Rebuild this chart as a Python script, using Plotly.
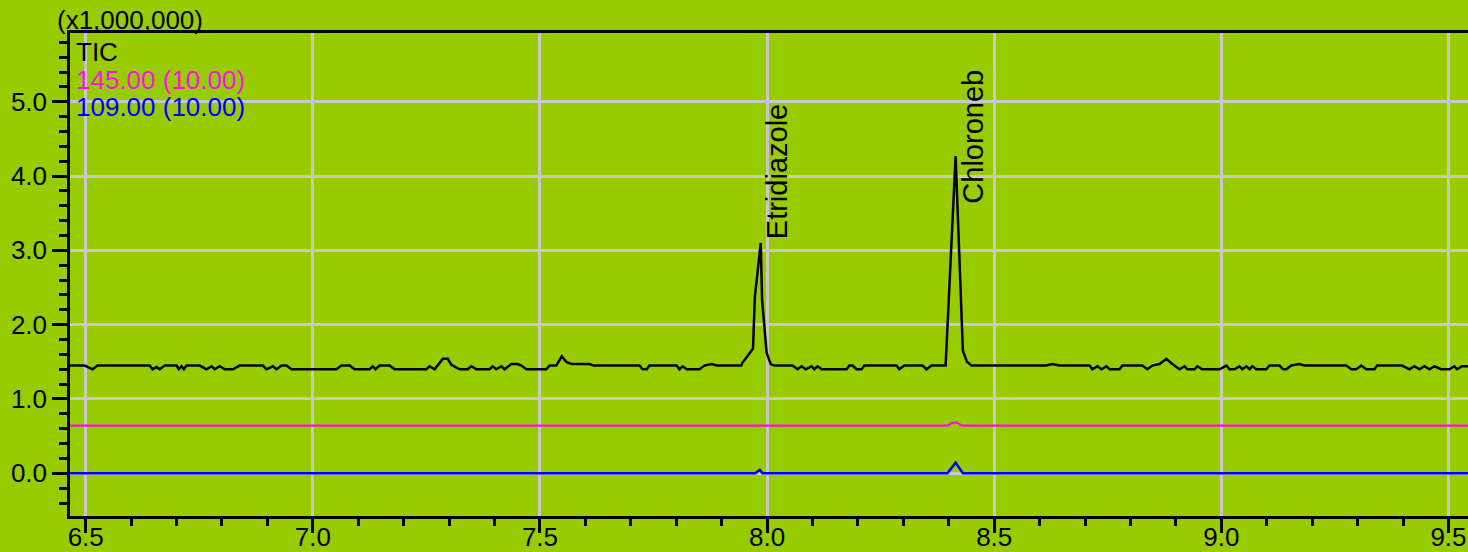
import plotly.graph_objects as go

# Total ion chromatogram (x1,000,000 counts) vs retention time (min)
tic_time = [
    6.465, 6.498, 6.515, 6.526, 6.641, 6.647, 6.656, 6.663, 6.674, 6.700,
    6.705, 6.711, 6.716, 6.722, 6.751, 6.766, 6.777, 6.784, 6.795, 6.806,
    6.824, 6.839, 6.890, 6.898, 6.912, 6.920, 6.931, 6.942, 6.953, 7.052,
    7.063, 7.081, 7.092, 7.125, 7.132, 7.138, 7.147, 7.169, 7.180, 7.250,
    7.257, 7.268, 7.286, 7.297, 7.305, 7.319, 7.323, 7.341, 7.349, 7.360,
    7.389, 7.396, 7.404, 7.415, 7.422, 7.437, 7.451, 7.459, 7.470, 7.514,
    7.521, 7.536, 7.548, 7.558, 7.570, 7.609, 7.618, 7.719, 7.726, 7.735,
    7.741, 7.801, 7.807, 7.814, 7.823, 7.851, 7.862, 7.878, 7.889, 7.943,
    7.946, 7.957, 7.969, 7.973, 7.986, 7.989, 7.999, 8.008, 8.016, 8.056,
    8.067, 8.076, 8.085, 8.098, 8.104, 8.111, 8.120, 8.175, 8.181, 8.188,
    8.197, 8.208, 8.214, 8.285, 8.291, 8.302, 8.342, 8.351, 8.362, 8.393,
    8.415, 8.431, 8.440, 8.450, 8.615, 8.628, 8.644, 8.710, 8.716, 8.727,
    8.736, 8.747, 8.754, 8.776, 8.782, 8.826, 8.837, 8.848, 8.864, 8.879,
    8.892, 8.908, 8.919, 8.925, 8.941, 8.947, 8.958, 8.996, 9.011, 9.018,
    9.029, 9.040, 9.046, 9.055, 9.062, 9.068, 9.077, 9.099, 9.106, 9.128,
    9.136, 9.143, 9.154, 9.172, 9.183, 9.275, 9.286, 9.297, 9.308, 9.319,
    9.337, 9.343, 9.398, 9.414, 9.425, 9.436, 9.447, 9.458, 9.469, 9.484,
    9.502, 9.513, 9.519, 9.530, 9.543,
]
tic_signal = [
    1.45, 1.45, 1.40, 1.45, 1.45, 1.40, 1.43, 1.40, 1.45, 1.45,
    1.40, 1.44, 1.40, 1.45, 1.45, 1.40, 1.44, 1.40, 1.44, 1.40,
    1.40, 1.45, 1.45, 1.40, 1.44, 1.40, 1.45, 1.45, 1.40, 1.40,
    1.45, 1.45, 1.40, 1.40, 1.44, 1.40, 1.45, 1.45, 1.40, 1.40,
    1.44, 1.40, 1.54, 1.54, 1.46, 1.41, 1.40, 1.40, 1.44, 1.40,
    1.40, 1.44, 1.40, 1.44, 1.40, 1.47, 1.47, 1.45, 1.40, 1.40,
    1.45, 1.45, 1.575, 1.50, 1.47, 1.47, 1.45, 1.45, 1.40, 1.40,
    1.45, 1.45, 1.40, 1.44, 1.40, 1.40, 1.45, 1.47, 1.45, 1.45,
    1.49, 1.58, 1.68, 2.37, 3.10, 2.33, 1.62, 1.47, 1.45, 1.45,
    1.40, 1.44, 1.40, 1.44, 1.40, 1.44, 1.40, 1.40, 1.45, 1.45,
    1.40, 1.40, 1.45, 1.45, 1.40, 1.45, 1.45, 1.40, 1.45, 1.45,
    4.27, 1.65, 1.50, 1.45, 1.45, 1.47, 1.45, 1.45, 1.40, 1.44,
    1.40, 1.44, 1.40, 1.40, 1.45, 1.45, 1.40, 1.45, 1.47, 1.54,
    1.47, 1.40, 1.44, 1.40, 1.40, 1.44, 1.40, 1.40, 1.45, 1.40,
    1.40, 1.44, 1.40, 1.44, 1.40, 1.44, 1.40, 1.40, 1.45, 1.45,
    1.40, 1.40, 1.45, 1.47, 1.45, 1.45, 1.40, 1.40, 1.45, 1.40,
    1.40, 1.45, 1.45, 1.40, 1.44, 1.40, 1.44, 1.40, 1.44, 1.40,
    1.40, 1.44, 1.40, 1.44, 1.44,
]

# Extracted ion chromatograms (offset traces)
mz145_time = [6.465, 8.398, 8.407, 8.418, 8.429, 9.543]
mz145_signal = [0.641, 0.641, 0.681, 0.681, 0.641, 0.641]
mz109_time = [6.465, 7.974, 7.984, 7.990, 8.397, 8.415, 8.431, 9.543]
mz109_signal = [0.0, 0.0, 0.045, 0.0, 0.0, 0.143, 0.0, 0.0]

# Identified compounds
peak_names = ["Etridiazole", "Chloroneb"]
peak_times = [7.986, 8.415]
peak_heights = [3.10, 4.27]
label_yshift = [2, -50]

# Trace legend entries
legend_labels = ["TIC", "145.00 (10.00)", "109.00 (10.00)"]
legend_colors = ["#000000", "#ff10e0", "#0000ff"]

BG = "#99cc00"
GRID = "#c8c8c8"
FONT = "Liberation Sans, Arial, sans-serif"
FS = 26

fig = go.Figure()
fig.add_trace(go.Scatter(x=mz109_time, y=mz109_signal, mode="lines",
                         line=dict(color=legend_colors[2], width=2.5),
                         name=legend_labels[2]))
fig.add_trace(go.Scatter(x=mz145_time, y=mz145_signal, mode="lines",
                         line=dict(color=legend_colors[1], width=2.2),
                         name=legend_labels[1]))
fig.add_trace(go.Scatter(x=tic_time, y=tic_signal, mode="lines",
                         line=dict(color=legend_colors[0], width=2.5),
                         name=legend_labels[0]))

annotations = []
for name, t, h, ys in zip(peak_names, peak_times, peak_heights, label_yshift):
    annotations.append(dict(x=t, y=h, xref="x", yref="y", text=name,
                            textangle=-90, showarrow=False,
                            xanchor="center", yanchor="bottom",
                            xshift=17, yshift=ys,
                            font=dict(family=FONT, size=29, color="black")))

legend_y = [0.9607, 0.9027, 0.8468]
for lab, col, yy in zip(legend_labels, legend_colors, legend_y):
    annotations.append(dict(x=0.003, y=yy, xref="paper", yref="paper",
                            text=lab, showarrow=False,
                            xanchor="left", yanchor="middle",
                            font=dict(family=FONT, size=FS, color=col)))

annotations.append(dict(x=-0.0105, y=1.027, xref="paper", yref="paper",
                        text="(x1,000,000)", showarrow=False,
                        xanchor="left", yanchor="middle",
                        font=dict(family=FONT, size=FS, color="black")))

fig.update_layout(
    width=1468, height=552,
    margin=dict(l=70, r=0, t=33, b=36),
    paper_bgcolor=BG, plot_bgcolor=BG,
    showlegend=False,
    font=dict(family=FONT, size=FS, color="black"),
    annotations=annotations,
)
fig.update_xaxes(
    automargin=False,
    range=[6.4654, 9.543],
    tick0=6.5, dtick=0.5, tickformat=".1f",
    showgrid=True, gridcolor=GRID, gridwidth=2.5,
    zeroline=False,
    showline=True, linecolor="black", linewidth=2.5, mirror=True,
    ticks="outside", ticklen=14, tickwidth=2.5, tickcolor="black",
    ticklabelstandoff=-18,
    minor=dict(dtick=0.1, tick0=6.5, ticks="outside", ticklen=7,
               tickwidth=2.5, tickcolor="black", showgrid=False),
    tickfont=dict(family=FONT, size=FS, color="black"),
)
fig.update_yaxes(
    automargin=False,
    range=[-0.575, 5.926],
    tick0=0, dtick=1, tickformat=".1f",
    showgrid=True, gridcolor=GRID, gridwidth=2.5,
    zeroline=False,
    showline=True, linecolor="black", linewidth=2.5,
    ticks="outside", ticklen=15, tickwidth=2.5, tickcolor="black",
    minor=dict(dtick=0.2, tick0=0, ticks="outside", ticklen=8,
               tickwidth=2.5, tickcolor="black", showgrid=False),
    tickfont=dict(family=FONT, size=FS, color="black"),
)

fig.write_html("out.html", config={"displayModeBar": False})
